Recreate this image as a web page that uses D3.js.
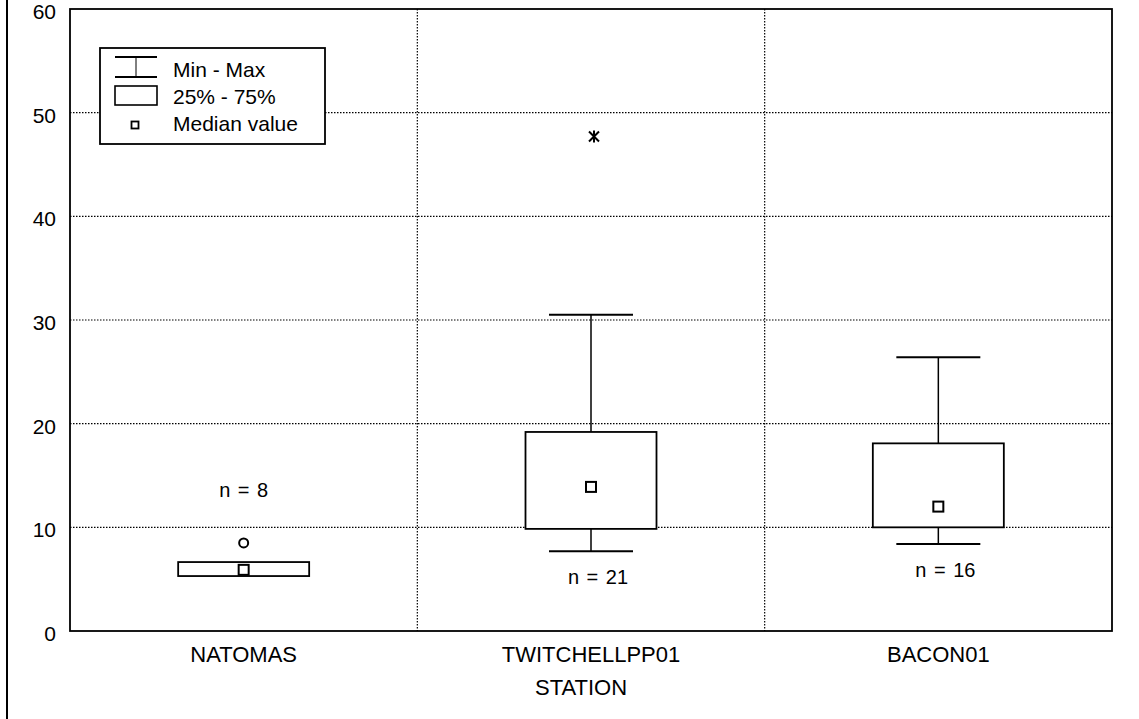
<!DOCTYPE html>
<html>
<head>
<meta charset="utf-8">
<script src="https://cdn.jsdelivr.net/npm/d3@7"></script>
<style>
  body { margin: 0; background: #fff; }
  text { font-family: "Liberation Sans", Arial, sans-serif; fill: #000; }
</style>
</head>
<body>
<div id="chart"></div>
<script>
// data
const stations = ["NATOMAS", "TWITCHELLPP01", "BACON01"];
const mins    = [5.3, 7.7, 8.4];
const q25     = [5.3, 9.85, 10.0];
const medians = [5.9, 13.9, 12.0];
const q75     = [6.65, 19.2, 18.1];
const maxs    = [6.65, 30.5, 26.4];
const counts  = [8, 21, 16];
const nLabelY = [12.9, 4.5, 5.2];   // baseline of the "n = .." labels
const outliers = [{station: "NATOMAS", value: 8.5, type: "circle"}];
const extremes = [{station: "TWITCHELLPP01", value: 47.7, type: "star"}];
const yTicks = [0, 10, 20, 30, 40, 50, 60];
const legendItems = ["Min - Max", "25% - 75%", "Median value"];

const W = 1139, H = 719;
const margin = {left: 70, right: 27, top: 9, bottom: 88};

const svg = d3.select("#chart").append("svg")
  .attr("width", W)
  .attr("height", H);

const x = d3.scaleBand()
  .domain(stations)
  .range([margin.left, W - margin.right]);

const y = d3.scaleLinear()
  .domain([0, 60])
  .range([H - margin.bottom, margin.top]);

// left page border
svg.append("line")
  .attr("x1", 7).attr("x2", 7)
  .attr("y1", 0).attr("y2", H)
  .attr("stroke", "#000").attr("stroke-width", 2);

// horizontal grid
svg.append("g")
  .selectAll("line")
  .data(yTicks.filter(d => d > 0 && d < 60))
  .join("line")
    .attr("x1", margin.left).attr("x2", W - margin.right)
    .attr("y1", d => y(d)).attr("y2", d => y(d))
    .attr("stroke", "#000")
    .attr("stroke-width", 1.2)
    .attr("stroke-dasharray", "1.5,1.5");

// vertical separators between stations
svg.append("g")
  .selectAll("line")
  .data(stations.slice(1))
  .join("line")
    .attr("x1", d => x(d)).attr("x2", d => x(d))
    .attr("y1", margin.top).attr("y2", H - margin.bottom)
    .attr("stroke", "#000")
    .attr("stroke-width", 1.2)
    .attr("stroke-dasharray", "1.5,1.5");

// plot frame
svg.append("rect")
  .attr("x", margin.left).attr("y", margin.top)
  .attr("width", W - margin.left - margin.right)
  .attr("height", H - margin.top - margin.bottom)
  .attr("fill", "none")
  .attr("stroke", "#000")
  .attr("stroke-width", 1.8);

// y tick labels
svg.append("g")
  .selectAll("text")
  .data(yTicks)
  .join("text")
    .attr("x", margin.left - 14)
    .attr("y", d => y(d) + 10)
    .attr("text-anchor", "end")
    .attr("font-size", 21)
    .text(d => d);

// x labels
svg.append("g")
  .selectAll("text")
  .data(stations)
  .join("text")
    .attr("x", d => x(d) + x.bandwidth() / 2)
    .attr("y", H - margin.bottom + 31)
    .attr("text-anchor", "middle")
    .attr("font-size", 22)
    .text(d => d);

svg.append("text")
  .attr("x", x("TWITCHELLPP01") + x.bandwidth() / 2 - 10)
  .attr("y", H - margin.bottom + 64)
  .attr("text-anchor", "middle")
  .attr("font-size", 22)
  .text("STATION");

const boxW = 131, capW = 84, medS = 10;
const cx = s => x(s) + x.bandwidth() / 2;

const boxes = svg.append("g")
  .selectAll("g")
  .data(stations)
  .join("g");

// whiskers
boxes.append("line")
  .attr("x1", d => cx(d)).attr("x2", d => cx(d))
  .attr("y1", (d, i) => y(q75[i])).attr("y2", (d, i) => y(maxs[i]))
  .attr("stroke", "#000").attr("stroke-width", 1.5);
boxes.append("line")
  .attr("x1", d => cx(d)).attr("x2", d => cx(d))
  .attr("y1", (d, i) => y(q25[i])).attr("y2", (d, i) => y(mins[i]))
  .attr("stroke", "#000").attr("stroke-width", 1.5);
// caps
[maxs, mins].forEach(arr => {
  boxes.filter((d, i) => maxs[i] > q75[i] + 0.01)
    .append("line")
      .attr("x1", d => cx(d) - capW / 2).attr("x2", d => cx(d) + capW / 2)
      .attr("y1", d => y(arr[stations.indexOf(d)]))
      .attr("y2", d => y(arr[stations.indexOf(d)]))
      .attr("stroke", "#000").attr("stroke-width", 2);
});

// 25-75 boxes
boxes.append("rect")
  .attr("x", d => cx(d) - boxW / 2)
  .attr("y", (d, i) => y(q75[i]))
  .attr("width", boxW)
  .attr("height", (d, i) => y(q25[i]) - y(q75[i]))
  .attr("fill", "#fff")
  .attr("stroke", "#000").attr("stroke-width", 1.8);

// medians
boxes.append("rect")
  .attr("x", d => cx(d) - medS / 2)
  .attr("y", (d, i) => y(medians[i]) - medS / 2)
  .attr("width", medS).attr("height", medS)
  .attr("fill", "#fff")
  .attr("stroke", "#000").attr("stroke-width", 2);

// n labels
boxes.append("text")
  .attr("x", (d, i) => cx(d) + (i ? 7 : 0))
  .attr("y", (d, i) => y(nLabelY[i]))
  .attr("text-anchor", "middle")
  .attr("font-size", 20)
  .attr("word-spacing", 2)
  .text((d, i) => "n = " + counts[i]);

// outliers
svg.selectAll(".outlier")
  .data(outliers)
  .join("circle")
    .attr("class", "outlier")
    .attr("cx", d => cx(d.station))
    .attr("cy", d => y(d.value))
    .attr("r", 4.5)
    .attr("fill", "none")
    .attr("stroke", "#000").attr("stroke-width", 2);

svg.selectAll(".extreme")
  .data(extremes)
  .join("path")
    .attr("class", "extreme")
    .attr("transform", d => `translate(${cx(d.station) + 3},${y(d.value)})`)
    .attr("d", "M-5,-5L5,5M-5,5L5,-5M0,-6L0,6")
    .attr("stroke", "#000").attr("stroke-width", 2);

// legend
const lg = svg.append("g").attr("transform", "translate(100,48)");
lg.append("rect")
  .attr("width", 225).attr("height", 96)
  .attr("fill", "#fff")
  .attr("stroke", "#000").attr("stroke-width", 1.8);
lg.append("line").attr("x1", 15).attr("x2", 57).attr("y1", 9).attr("y2", 9)
  .attr("stroke", "#000").attr("stroke-width", 1.8);
lg.append("line").attr("x1", 15).attr("x2", 57).attr("y1", 29).attr("y2", 29)
  .attr("stroke", "#000").attr("stroke-width", 1.8);
lg.append("line").attr("x1", 36).attr("x2", 36).attr("y1", 9).attr("y2", 29)
  .attr("stroke", "#000").attr("stroke-width", 1);
lg.append("rect").attr("x", 15).attr("y", 38).attr("width", 42).attr("height", 19)
  .attr("fill", "#fff").attr("stroke", "#000").attr("stroke-width", 1.6);
lg.append("rect").attr("x", 31.5).attr("y", 73.5).attr("width", 7).attr("height", 7)
  .attr("fill", "#fff").attr("stroke", "#000").attr("stroke-width", 1.8);
lg.selectAll(".lgtext")
  .data(legendItems)
  .join("text")
    .attr("class", "lgtext")
    .attr("x", 73)
    .attr("y", (d, i) => 29 + i * 27)
    .attr("font-size", 21)
    .text(d => d);
</script>
</body>
</html>
